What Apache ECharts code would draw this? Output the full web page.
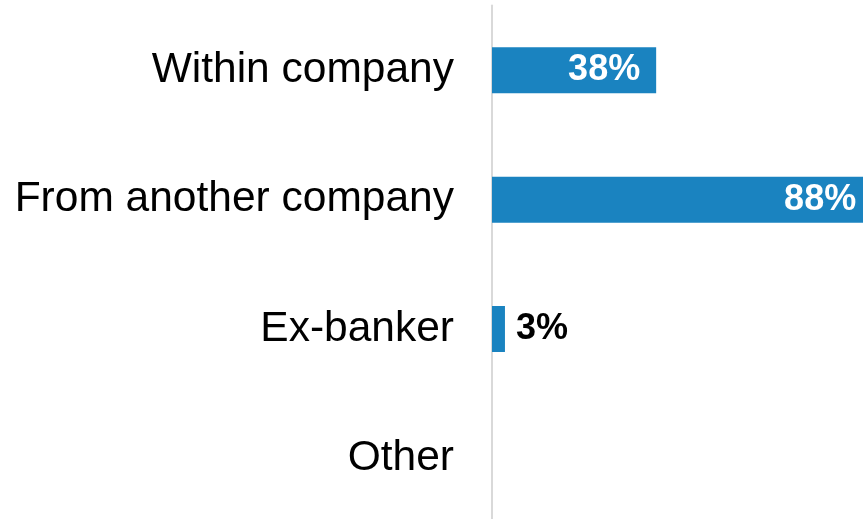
<!DOCTYPE html>
<html>
<head>
<meta charset="utf-8">
<script src="https://cdn.jsdelivr.net/npm/echarts@6/dist/echarts.min.js"></script>
<style>
html,body{margin:0;padding:0;background:#fff;overflow:hidden;width:863px;height:519px;}
#chart{width:940px;height:526px;}
</style>
</head>
<body>
<div id="chart"></div>
<script>
const categories = ["Within company", "From another company", "Ex-banker", "Other"];
const values = [38, 88, 3, 0];

const barColor = "#1a83c0";

const seriesData = values.map(function (v) {
  if (v === 0) {
    return { value: v, label: { show: false } };
  }
  if (v < 10) {
    return {
      value: v,
      label: { position: "right", distance: 11, color: "#000000" }
    };
  }
  return {
    value: v,
    label: { position: "insideRight", distance: 16, color: "#ffffff" }
  };
});

const chart = echarts.init(document.getElementById("chart"), null, { renderer: "canvas" });
chart.setOption({
  animation: false,
  backgroundColor: "#ffffff",
  grid: { left: 492, top: 5.6, width: 432, height: 517.4, containLabel: false },
  xAxis: {
    type: "value",
    min: 0,
    max: 100,
    show: false,
    splitLine: { show: false }
  },
  yAxis: {
    type: "category",
    data: categories,
    inverse: true,
    axisTick: { show: false },
    axisLine: { show: true, lineStyle: { color: "#d9d9d9", width: 2 } },
    axisLabel: {
      margin: 38,
      fontFamily: "Liberation Sans, Arial, sans-serif",
      fontSize: 42.5,
      color: "#000000"
    }
  },
  series: [{
    type: "bar",
    data: seriesData,
    barWidth: 46,
    itemStyle: { color: barColor },
    label: {
      show: true,
      formatter: function (p) { return p.value + "%"; },
      fontFamily: "Liberation Sans, Arial, sans-serif",
      fontSize: 36,
      fontWeight: "bold"
    }
  }]
});
</script>
</body>
</html>
